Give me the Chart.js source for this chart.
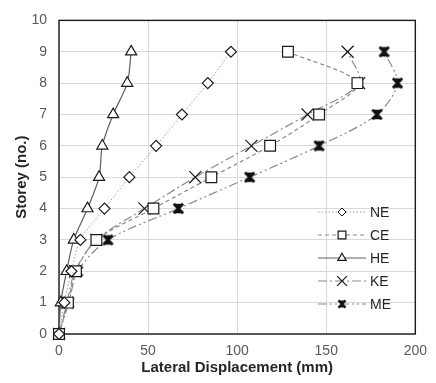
<!DOCTYPE html>
<html><head><meta charset="utf-8">
<script src="https://cdn.jsdelivr.net/npm/chart.js@4/dist/chart.umd.min.js"></script>
<style>html,body{margin:0;padding:0;background:#fff}#wrap{width:436px;height:383px;position:relative}</style>
</head><body><div id="wrap"><canvas id="c" width="436" height="383"></canvas></div>
<script>
// ---- data ----
const storeys = [0, 1, 2, 3, 4, 5, 6, 7, 8, 9];
const seriesNames = ['NE', 'CE', 'HE', 'KE', 'ME'];
const NE = [0, 3, 7, 12, 25.5, 39.5, 54.5, 69, 83.5, 96.5];
const CE = [0, 5, 9.5, 21, 53, 85.5, 118.5, 146, 167.5, 128.5];
const HE = [0, 1, 4.3, 8.3, 16, 22.5, 24.3, 30.4, 38.3, 40.5];
const KE = [0, 4.5, 9, 21, 48, 76.5, 108, 139.5, 168.5, 162];
const ME = [0, 5.5, 10.5, 27.5, 67, 107, 146, 178.5, 190, 182.5];
const xTicks = [0, 50, 100, 150, 200];
const yTicks = [0, 1, 2, 3, 4, 5, 6, 7, 8, 9, 10];
const xTitle = 'Lateral Displacement (mm)';
const yTitle = 'Storey (no.)';

// ---- custom ME marker ----
function makeStar(s) {
  const c = document.createElement('canvas');
  c.width = s; c.height = s;
  const g = c.getContext('2d');
  const m = s / 2, a = s * 0.36;
  g.fillStyle = '#111'; g.strokeStyle = '#111';
  g.beginPath();
  g.moveTo(m - a * 0.7, m - a); g.lineTo(m + a * 0.7, m - a); g.lineTo(m, m);
  g.lineTo(m + a * 0.7, m + a); g.lineTo(m - a * 0.7, m + a); g.lineTo(m, m);
  g.closePath(); g.fill();
  g.lineWidth = s * 0.22; g.lineCap = 'butt';
  g.beginPath();
  g.moveTo(m - a, m - a); g.lineTo(m + a, m + a);
  g.moveTo(m + a, m - a); g.lineTo(m - a, m + a);
  g.stroke();
  return c;
}
const starBig = makeStar(13);
const starSmall = makeStar(10);

const valuesByName = { NE, CE, HE, KE, ME };
const styles = {
  NE: { color: '#a0a0a0', dash: [1.5, 2], width: 1, point: 'rectRot', r: 5.5, lr: 4 },
  CE: { color: '#8a8a8a', dash: [4, 3], width: 1.2, point: 'rect', r: 7.6, lr: 5.5 },
  HE: { color: '#5f5f5f', dash: [], width: 1.2, point: 'triangle', r: 6.4, lr: 4.8 },
  KE: { color: '#8a8a8a', dash: [9, 3, 2, 3], width: 1.2, point: 'crossRot', r: 8.5, lr: 7 },
  ME: { color: '#8a8a8a', dash: [9, 3, 2, 3, 2, 3], width: 1.2, point: starBig, legendPoint: starSmall, r: 6.5, lr: 5 }
};

const datasets = seriesNames.map(n => {
  const st = styles[n];
  return {
    label: n,
    data: storeys.map((s, i) => ({ x: valuesByName[n][i], y: s })),
    showLine: true,
    borderColor: st.color,
    borderWidth: st.width,
    borderDash: st.dash,
    tension: 0.3,
    pointStyle: st.point,
    pointRadius: st.r,
    pointHoverRadius: st.r,
    pointBackgroundColor: '#ffffff',
    pointBorderColor: '#1a1a1a',
    pointBorderWidth: 1.2,
    clip: false
  };
});

const framePlugin = {
  id: 'frame',
  beforeDatasetsDraw(chart) {
    const { ctx, chartArea: a } = chart;
    ctx.save();
    ctx.strokeStyle = '#1a1a1a';
    ctx.lineWidth = 1.4;
    ctx.strokeRect(a.left, a.top, a.right - a.left, a.bottom - a.top);
    ctx.restore();
  },
  afterDraw(chart) {
    const ctx = chart.ctx;
    const x0 = 318, x1 = 366, mx = 342, tx = 370, y0 = 212, step = 23;
    chart.data.datasets.forEach((ds, i) => {
      const st = styles[ds.label];
      const y = y0 + i * step;
      ctx.save();
      ctx.strokeStyle = ds.borderColor;
      ctx.lineWidth = ds.borderWidth;
      ctx.setLineDash(ds.borderDash);
      ctx.beginPath(); ctx.moveTo(x0, y); ctx.lineTo(x1, y); ctx.stroke();
      ctx.setLineDash([]);
      ctx.fillStyle = '#ffffff';
      ctx.strokeStyle = '#1a1a1a';
      Chart.helpers.drawPoint(ctx, { pointStyle: st.legendPoint || st.point, radius: st.lr, borderWidth: 1.1, rotation: 0 }, mx, y);
      ctx.fillStyle = '#262626';
      ctx.font = '14px "Liberation Sans", Arial, sans-serif';
      ctx.textBaseline = 'middle';
      ctx.textAlign = 'left';
      ctx.fillText(ds.label, tx, y + 1);
      ctx.restore();
    });
  }
};

new Chart(document.getElementById('c'), {
  type: 'scatter',
  data: { datasets },
  plugins: [framePlugin],
  options: {
    responsive: false,
    devicePixelRatio: 1,
    animation: false,
    layout: { padding: { top: 15, right: 17, left: 0, bottom: 0 } },
    plugins: { legend: { display: false }, tooltip: { enabled: false } },
    scales: {
      x: {
        type: 'linear', min: 0, max: 200,
        afterFit(s) { s.height = 49; },
        afterBuildTicks(s) { s.ticks = xTicks.map(v => ({ value: v })); },
        grid: { color: '#d9d9d9', lineWidth: 1, drawTicks: false },
        border: { display: false },
        ticks: { padding: 9, color: '#595959', font: { family: '"Liberation Sans", Arial, sans-serif', size: 14 } },
        title: { display: true, text: xTitle, color: '#262626', padding: { top: 0, bottom: 6 },
          font: { family: '"Liberation Sans", Arial, sans-serif', size: 15, weight: 'bold' } }
      },
      y: {
        type: 'linear', min: 0, max: 10,
        afterFit(s) { s.width = 59; },
        afterBuildTicks(s) { s.ticks = yTicks.map(v => ({ value: v })); },
        grid: { color: '#d9d9d9', lineWidth: 1, drawTicks: false },
        border: { display: false },
        ticks: { padding: 12, color: '#595959', font: { family: '"Liberation Sans", Arial, sans-serif', size: 14 } },
        title: { display: true, text: yTitle, color: '#262626', padding: { top: 13, bottom: 0 },
          font: { family: '"Liberation Sans", Arial, sans-serif', size: 15, weight: 'bold' } }
      }
    }
  }
});
</script>
</body></html>
